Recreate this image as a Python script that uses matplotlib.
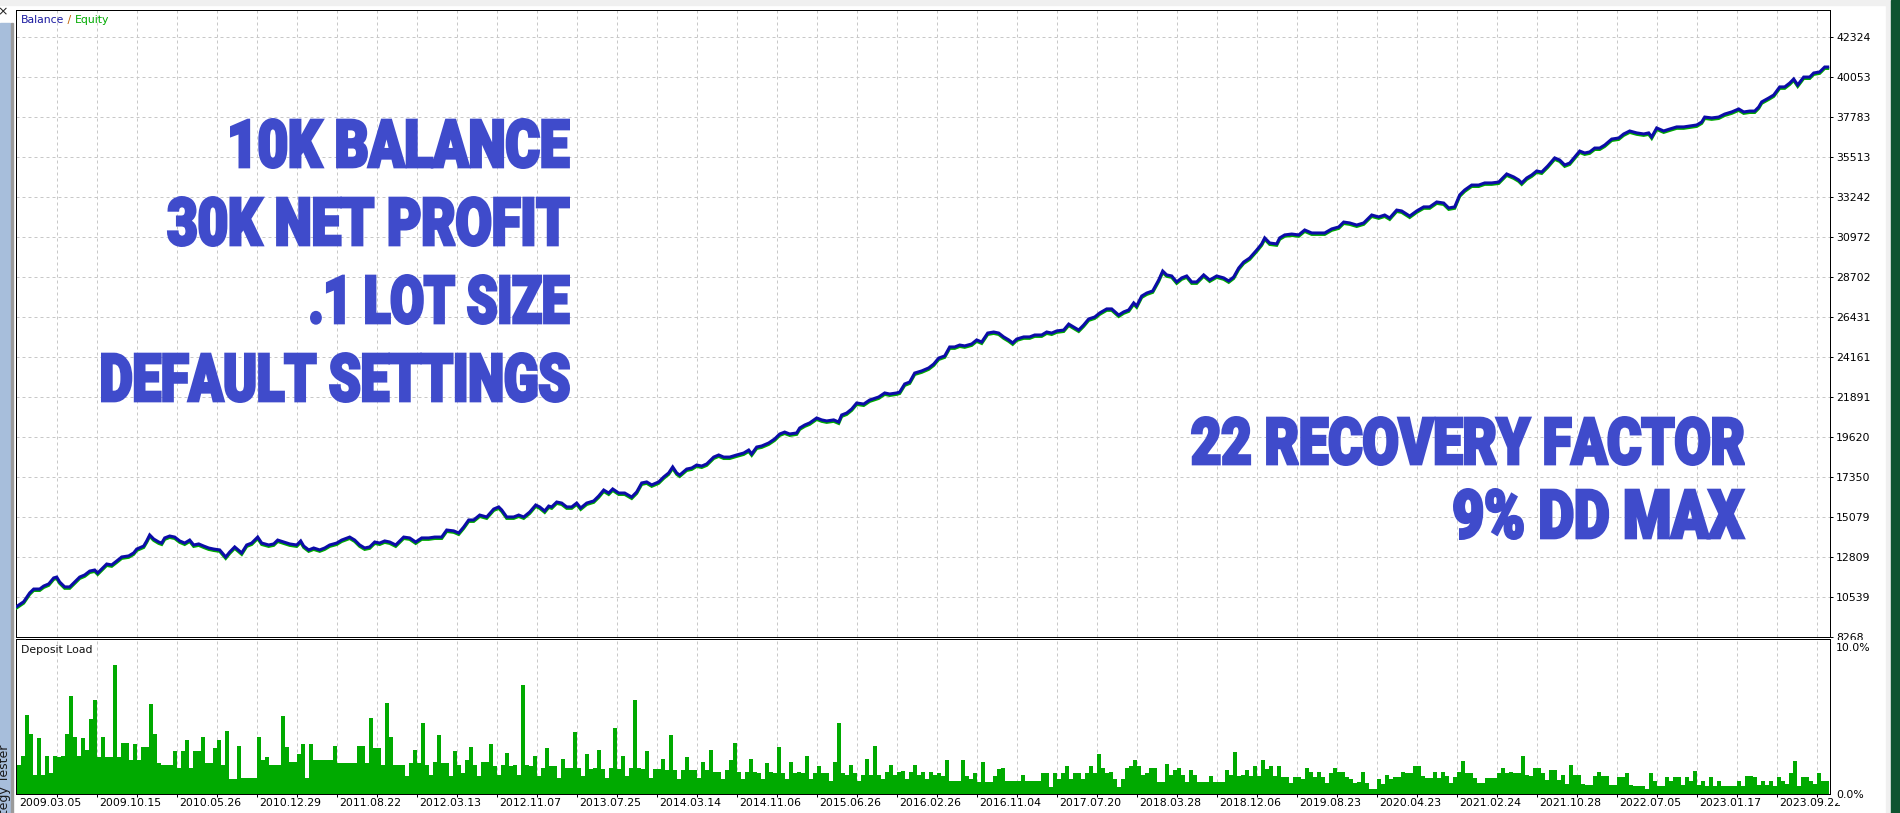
import numpy as np
import matplotlib
matplotlib.use("Agg")
import matplotlib.pyplot as plt
from matplotlib.patches import Rectangle
from matplotlib.patheffects import AbstractPathEffect
from matplotlib.transforms import Affine2D
from matplotlib.ticker import FixedLocator

W, H = 1900, 813

# ---- data ----
deals = [
    0, 7, 13, 17, 23, 27, 32, 37, 40, 43, 48, 53, 58, 63, 68, 73, 78, 81, 85, 90,
    95, 100, 105, 112, 117, 120, 127, 130, 133, 137, 142, 145, 148, 153, 158, 163, 168, 173, 177, 182,
    187, 192, 197, 203, 209, 213, 218, 225, 230, 235, 241, 245, 252, 257, 261, 267, 273, 280, 284, 287,
    292, 297, 303, 308, 313, 320, 325, 333, 338, 343, 348, 353, 358, 363, 368, 373, 379, 387, 393, 399,
    405, 412, 418, 425, 430, 437, 442, 447, 452, 457, 463,
    470, 477, 482, 485, 490, 497, 502, 507, 513, 519, 523, 528, 532, 535, 540, 545, 550, 555, 560, 564,
    570, 577, 582, 587, 592, 596, 602, 608, 615, 620, 625, 630, 635, 642, 647, 652, 656, 660, 663, 670,
    675, 680, 685, 690, 697, 702, 707, 713, 720, 727, 732, 735, 740, 745, 752, 758, 763, 768, 773, 780,
    783, 788, 793, 800, 805, 810, 817, 822, 825, 830, 835, 840, 847, 853, 862, 868, 873, 880, 883, 888,
    893, 898, 905, 912,
    917, 922, 928, 933, 938, 943, 948, 955, 960, 965, 971, 977, 982, 987, 992, 996, 1000, 1007, 1013, 1018,
    1025, 1030, 1035, 1040, 1047, 1052, 1057, 1062, 1067, 1072, 1078, 1083, 1090, 1095, 1102, 1107, 1112, 1117, 1120, 1125,
    1130, 1136, 1142, 1146, 1150, 1155, 1160, 1165, 1170, 1175, 1180, 1187, 1193, 1200, 1207, 1212, 1217, 1222, 1227, 1233,
    1240, 1245, 1248, 1253, 1260, 1263, 1268, 1275, 1282, 1288, 1295, 1302, 1308, 1315, 1322, 1327, 1333, 1340, 1347,
    1355, 1362, 1368, 1373, 1380, 1385, 1393, 1400, 1407, 1413, 1420, 1427, 1432, 1438, 1443, 1448, 1455, 1462, 1468, 1475,
    1482, 1485, 1490, 1497, 1502, 1505, 1510, 1515, 1520, 1525, 1531, 1538, 1543, 1548, 1553, 1558, 1563, 1568, 1573, 1578,
    1583, 1588, 1595, 1602, 1607, 1613, 1620, 1627, 1632, 1635, 1640, 1647, 1653, 1660, 1667, 1673, 1680, 1685, 1688, 1695,
    1702, 1708, 1715, 1722, 1727, 1733, 1738, 1742, 1745, 1752, 1757, 1763, 1768, 1773, 1777, 1781, 1787, 1793, 1797, 1803,
    1808, 1811,
]

balance = [
    10000, 10270, 10770, 10990, 10990, 11160, 11280, 11620, 11670, 11390, 11110, 11110, 11390, 11670, 11790, 12010, 12070, 11900, 12130, 12410,
    12360, 12580, 12810, 12870, 13040, 13260, 13430, 13720, 14060, 13830, 13660, 13600, 13890, 14000, 13940, 13720, 13600, 13770, 13490, 13550,
    13430, 13320, 13260, 13210, 12810, 13090, 13380, 13040, 13490, 13600, 13940, 13600, 13490, 13550, 13770, 13660, 13550, 13490, 13720, 13430,
    13210, 13320, 13210, 13320, 13490, 13600, 13770, 13940, 13770, 13490, 13320, 13380, 13660, 13600, 13720, 13660, 13490, 13940, 13890, 13660,
    13890, 13890, 13940, 13940, 14340, 14290, 14170, 14510, 14910, 14910, 15190,
    15080, 15530, 15650, 15480, 15080, 15080, 15190, 15080, 15360, 15760, 15650, 15420, 15700, 15650, 15930, 15870, 15650, 15650, 15870, 15590,
    15870, 15990, 16270, 16610, 16440, 16670, 16440, 16440, 16210, 16500, 17010, 17070, 16900, 17070, 17350, 17580, 17920, 17580, 17460, 17800,
    17860, 18030, 17970, 18090, 18480, 18600, 18480, 18480, 18600, 18710, 18880, 18660, 19050, 19110, 19280, 19510, 19790, 19900, 19790, 19850,
    20130, 20300, 20420, 20700, 20590, 20530, 20590, 20470, 20870, 20980, 21210, 21550, 21490, 21720, 21890, 22120, 22060, 22120, 22170, 22630,
    22740, 23250, 23370, 23540,
    23760, 24100, 24220, 24730, 24730, 24840, 24790, 24900, 25130, 25010, 25520, 25580, 25520, 25300, 25130, 24960, 25180, 25300, 25300, 25410,
    25410, 25580, 25520, 25640, 25690, 26030, 25860, 25690, 25980, 26320, 26430, 26660, 26890, 26890, 26540, 26720, 26830, 27230, 27060, 27620,
    27790, 27910, 28530, 29040, 28820, 28760, 28420, 28650, 28760, 28420, 28420, 28820, 28530, 28760, 28650, 28480, 28700, 29210, 29550, 29780,
    30230, 30580, 30920, 30630, 30580, 30920, 31090, 31140, 31090, 31370, 31200, 31200, 31200, 31430, 31540, 31820, 31770, 31650, 31770,
    32220, 32110, 32220, 32050, 32500, 32450, 32160, 32450, 32680, 32680, 32960, 32900, 32620, 32680, 33360, 33640, 33920, 33920, 34040, 34040,
    34090, 34260, 34550, 34380, 34210, 34040, 34320, 34490, 34720, 34660, 35000, 35460, 35340, 35060, 35170, 35510, 35850, 35740, 35800, 36020,
    36020, 36190, 36530, 36590, 36820, 36990, 36880, 36820, 36880, 36650, 37160, 36990, 37100, 37220, 37220, 37270, 37330, 37500, 37780, 37730,
    37780, 37950, 38070, 38240, 38070, 38120, 38120, 38350, 38640, 38860, 39030, 39490, 39490, 39710, 39940, 39600, 40050, 40050, 40280, 40340,
    40620, 40620,
]

equity = [
    9920, 10190, 10690, 10910, 10910, 11080, 11200, 11540, 11590, 11310, 11030, 11030, 11310, 11590, 11710, 11930, 11990, 11820, 12050, 12330,
    12280, 12500, 12730, 12790, 12960, 13180, 13350, 13640, 13980, 13750, 13580, 13520, 13810, 13920, 13860, 13640, 13520, 13690, 13410, 13470,
    13350, 13240, 13180, 13130, 12730, 13010, 13300, 12960, 13410, 13520, 13860, 13520, 13410, 13470, 13690, 13580, 13470, 13410, 13640, 13350,
    13130, 13240, 13130, 13240, 13410, 13520, 13690, 13860, 13690, 13410, 13240, 13300, 13580, 13520, 13640, 13580, 13410, 13860, 13810, 13580,
    13810, 13810, 13860, 13860, 14260, 14210, 14090, 14430, 14830, 14830, 15110,
    15000, 15450, 15570, 15400, 15000, 15000, 15110, 15000, 15280, 15680, 15570, 15340, 15620, 15570, 15850, 15790, 15570, 15570, 15790, 15510,
    15790, 15910, 16190, 16530, 16360, 16590, 16360, 16360, 16130, 16420, 16930, 16990, 16820, 16990, 17270, 17500, 17840, 17500, 17380, 17720,
    17780, 17950, 17890, 18010, 18400, 18520, 18400, 18400, 18520, 18630, 18800, 18580, 18970, 19030, 19200, 19430, 19710, 19820, 19710, 19770,
    20050, 20220, 20340, 20620, 20510, 20450, 20510, 20390, 20790, 20900, 21130, 21470, 21410, 21640, 21810, 22040, 21980, 22040, 22090, 22550,
    22660, 23170, 23290, 23460,
    23680, 24020, 24140, 24650, 24650, 24760, 24710, 24820, 25050, 24930, 25440, 25500, 25440, 25220, 25050, 24880, 25100, 25220, 25220, 25330,
    25330, 25500, 25440, 25560, 25610, 25950, 25780, 25610, 25900, 26240, 26350, 26580, 26810, 26810, 26460, 26640, 26750, 27150, 26980, 27540,
    27710, 27830, 28450, 28960, 28740, 28680, 28340, 28570, 28680, 28340, 28340, 28740, 28450, 28680, 28570, 28400, 28620, 29130, 29470, 29700,
    30150, 30500, 30840, 30550, 30500, 30840, 31010, 31060, 31010, 31290, 31120, 31120, 31120, 31350, 31460, 31740, 31690, 31570, 31690,
    32140, 32030, 32140, 31970, 32420, 32370, 32080, 32370, 32600, 32600, 32880, 32820, 32540, 32600, 33280, 33560, 33840, 33840, 33960, 33960,
    34010, 34180, 34470, 34300, 34130, 33960, 34240, 34410, 34640, 34580, 34920, 35380, 35260, 34980, 35090, 35430, 35770, 35660, 35720, 35940,
    35940, 36110, 36450, 36510, 36740, 36910, 36800, 36740, 36800, 36570, 37080, 36910, 37020, 37140, 37140, 37190, 37250, 37420, 37700, 37650,
    37700, 37870, 37990, 38160, 37990, 38040, 38040, 38270, 38560, 38780, 38950, 39410, 39410, 39630, 39860, 39520, 39970, 39970, 40200, 40260,
    40540, 40540,
]

# deposit load in %, one value per bucket of deals
deposit_load = [
    2.0, 2.6, 5.4, 4.1, 1.3, 3.8, 1.3, 2.6, 1.4, 2.6, 2.5, 2.6, 4.1, 6.7, 3.9, 2.6, 3.8, 3.0, 5.1, 6.4,
    2.5, 3.9, 2.5, 2.5, 8.8, 2.5, 3.5, 3.5, 2.3, 3.4, 2.3, 3.2, 3.2, 6.1, 4.1, 2.1, 2.0, 2.0, 2.0, 2.9,
    1.8, 2.9, 3.7, 1.8, 2.9, 2.9, 3.9, 2.1, 2.1, 3.1, 3.7, 2.0, 4.3, 1.0, 1.0, 3.3, 1.1, 1.1, 1.1, 1.1,
    3.9, 2.3, 2.5, 2.0, 2.0, 2.0, 5.3, 3.2, 2.2, 2.2, 2.7, 3.4, 1.1, 3.4, 2.3, 2.3, 2.3, 2.3, 2.3, 3.3,
    2.1, 2.1, 2.1, 2.1, 2.1, 3.3, 3.3, 2.1, 5.2, 3.1, 3.1, 2.0, 6.2, 3.9, 2.0, 2.0,
    2.0, 1.2, 2.1, 3.0, 2.1, 4.8, 2.0, 1.3, 2.2, 4.0, 2.1, 2.1, 1.2, 2.9, 2.0, 1.4, 2.3, 3.2, 2.0, 1.2,
    2.2, 2.2, 3.4, 1.9, 1.3, 2.0, 2.8, 1.9, 2.0, 1.3, 7.4, 2.0, 1.9, 2.6, 1.2, 1.8, 3.1, 1.9, 1.9, 1.1,
    2.4, 1.8, 1.8, 4.2, 1.8, 1.2, 2.7, 1.7, 1.8, 3.0, 1.7, 1.1, 1.8, 4.5, 1.7, 2.6, 1.2, 1.8, 6.4, 1.8,
    1.7, 2.9, 1.1, 1.7, 1.7, 2.4, 1.6, 4.0, 1.6, 1.0, 1.6, 2.5, 1.6, 1.6, 1.1, 2.2, 1.6, 3.0, 1.5, 1.5,
    1.0, 1.6, 2.3, 3.5, 1.5, 1.0, 1.5, 2.4, 1.5, 1.4, 1.0, 2.1, 1.5, 1.4, 3.2, 1.4, 1.0, 2.2, 1.4, 1.5,
    1.4, 2.6, 1.0, 1.4, 1.9, 1.4, 1.4, 0.9, 2.2, 4.8, 1.4, 1.3, 2.0, 1.4, 0.9, 1.3, 2.4, 1.3, 3.3, 1.3,
    1.0, 1.5, 2.0, 1.3, 1.5,
    1.55, 1.0, 1.5, 2.0, 1.3, 1.5, 1.0, 1.5, 1.3, 1.4, 1.2, 2.3, 0.9, 0.9, 0.9, 2.3, 1.2, 1.0, 1.4, 0.85,
    2.2, 0.85, 0.85, 1.25, 1.7, 1.8, 0.9, 0.87, 0.9, 0.87, 1.3, 0.87, 0.9, 0.9, 0.9, 1.4, 1.4, 0.45, 1.4, 1.0,
    1.4, 1.9, 1.0, 1.45, 1.4, 1.0, 1.4, 1.9, 1.4, 2.75, 1.8, 1.4, 1.5, 1.0, 0.5, 1.0, 1.8, 1.9, 2.3, 1.9,
    1.3, 1.4, 1.8, 1.8, 0.8, 0.8, 2.05, 1.3, 1.6, 1.8, 1.3, 0.8, 1.6, 1.3, 0.85, 0.85, 0.85, 1.25, 0.85, 0.85,
    0.85, 1.6, 1.3, 2.85, 1.2, 1.3, 1.6, 1.2, 1.9, 1.2, 2.3, 1.7, 1.9, 1.2, 1.9, 1.15, 1.15, 0.73, 1.15, 1.15,
    1.0, 1.8, 1.5, 1.15, 1.5, 1.15, 0.73, 1.4, 1.8, 1.5, 1.5, 1.15, 1.0, 0.73, 0.8, 1.5, 0.73, 0.35, 0.35, 1.0,
    0.7, 1.3, 1.0, 1.15, 1.15,
    1.5, 1.4, 1.4, 1.9, 1.9, 1.25, 1.1, 1.1, 1.5, 1.1, 1.5, 1.2, 0.73, 1.15, 1.5, 2.24, 1.4, 1.4, 1.1, 0.73,
    0.73, 1.1, 1.1, 1.1, 1.45, 1.8, 1.4, 1.5, 1.4, 1.4, 2.56, 1.3, 1.25, 1.76, 1.76, 1.4, 0.96, 1.6, 1.6, 0.96,
    1.3, 0.7, 2.0, 1.3, 1.3, 0.7, 0.64, 0.64, 1.2, 1.5, 1.25, 1.25, 0.64, 0.64, 1.15, 1.15, 1.4, 0.64, 0.57, 0.57,
    0.57, 0.34, 1.4, 0.9, 0.57, 0.57, 1.15, 0.87, 1.15, 1.15, 0.64, 1.15, 0.87, 1.55, 0.64, 0.87, 0.57, 1.15, 0.57, 0.87,
    0.57, 0.57, 0.57, 0.57, 0.87, 0.57, 1.2, 1.2, 1.15, 0.64, 0.87, 0.64, 0.87, 0.57, 1.15, 0.87, 0.7, 1.4, 2.24, 0.57,
    1.15, 1.15, 0.87, 0.7, 1.4, 0.87, 0.87,
]

y_ticks = [8268, 10539, 12809, 15079, 17350, 19620, 21891, 24161, 26431, 28702,
           30972, 33242, 35513, 37783, 40053, 42324]
load_ticks = [0.0, 10.0]
date_labels = ["2009.03.05", "2009.10.15", "2010.05.26", "2010.12.29", "2011.08.22",
               "2012.03.13", "2012.11.07", "2013.07.25", "2014.03.14", "2014.11.06",
               "2015.06.26", "2016.02.26", "2016.11.04", "2017.07.20", "2018.03.28",
               "2018.12.06", "2019.08.23", "2020.04.23", "2021.02.24", "2021.10.28",
               "2022.07.05", "2023.01.17", "2023.09.22"]

headlines = [
    # text, left, right, top, bottom (pixels of the image)
    ("10K BALANCE", 230, 570, 118, 169),
    ("30K NET PROFIT", 167, 570, 196, 247),
    (".1 LOT SIZE", 310, 570, 274, 325),
    ("DEFAULT SETTINGS", 101, 570, 352, 403),
    ("22 RECOVERY FACTOR", 1191, 1745, 416, 466),
    ("9% DD MAX", 1453, 1745, 488, 540),
]

BLUE = "#0c0ca8"
GREEN = "#00aa00"
GRID = "#c8c8c8"
HEAD = "#3f4bcb"
PX = 0.72  # one pixel in points


def fx(px):
    return px / W


def fy(py):
    return 1 - py / H


class FitBox(AbstractPathEffect):
    """Draw the text glyphs squeezed into a given pixel box (poster lettering)."""

    def __init__(self, box, stroke_px=2.0):
        super().__init__()
        self.box = box
        self.stroke_px = stroke_px

    def draw_path(self, renderer, gc, tpath, affine, rgbFace=None):
        ext = tpath.get_extents(affine)
        left, right, top, bottom = self.box
        pad = self.stroke_px / 2
        x0, x1 = left + pad, right - pad
        y0, y1 = renderer.height - bottom + pad, renderer.height - top - pad
        fit = (Affine2D().translate(-ext.x0, -ext.y0)
               .scale((x1 - x0) / ext.width, (y1 - y0) / ext.height)
               .translate(x0, y0))
        gc0 = renderer.new_gc()
        gc0.copy_properties(gc)
        gc0.set_linewidth(self.stroke_px / renderer.points_to_pixels(1.0))
        gc0.set_foreground(rgbFace, isRGBA=True)
        gc0.set_joinstyle("miter")
        renderer.draw_path(gc0, tpath, affine + fit, rgbFace)
        gc0.restore()


plt.rcParams["font.family"] = ["DejaVu Sans"]

fig = plt.figure(figsize=(W / 100, H / 100), dpi=100, facecolor="white")

# window chrome around the chart
fig.patches.append(Rectangle((0, fy(5)), 1, 5 / H, transform=fig.transFigure,
                             color="#f0f0f0", zorder=0))
fig.patches.append(Rectangle((0, 0), fx(10), fy(23), transform=fig.transFigure,
                             color="#a7bedb", zorder=0))
fig.patches.append(Rectangle((fx(11), 0), fx(1.5), fy(23), transform=fig.transFigure,
                             color="#9a9a9a", zorder=0))
fig.patches.append(Rectangle((fx(1886), 0), fx(5), 1, transform=fig.transFigure,
                             color="#f0f0f0", zorder=0))
fig.patches.append(Rectangle((fx(1891), 0), fx(9), 1, transform=fig.transFigure,
                             color="#0e5430", zorder=0))
fig.text(fx(3), fy(12), "×", fontsize=9, ha="center", va="center", color="#202020")
fig.text(fx(5), fy(745), "Strategy Tester", rotation=90, ha="center", va="top",
         fontsize=9, color="#1a1a1a")

# ---- balance / equity panel ----
ax = fig.add_axes([fx(16), fy(637), (1830 - 16) / W, (637 - 10) / H])
ax.set_axisbelow(True)
ax.plot(deals, equity, color=GREEN, lw=2.2, solid_joinstyle="miter", zorder=4)
ax.plot(deals, balance, color=BLUE, lw=2.2, solid_joinstyle="miter", zorder=5)
ax.set_xlim(-0.7, 1813.3)
ax.set_ylim(y_ticks[0], y_ticks[0] + (y_ticks[-1] - y_ticks[0]) / 15 * 627 / 40)
ax.set_xticks(40.3 + 40 * np.arange(45))
ax.set_yticks(y_ticks)
ax.set_yticklabels([str(v) for v in y_ticks])
ax.yaxis.tick_right()
ax.tick_params(axis="x", length=0, labelbottom=False)
ax.tick_params(axis="y", length=2.2, width=PX, pad=2.2, labelsize=7.8, direction="out")
ax.grid(True, color=GRID, linestyle=(0, (3, 3)), linewidth=PX)
for s in ax.spines.values():
    s.set_linewidth(PX)
    s.set_color("black")

t1 = ax.text(fx(21), fy(20), "Balance", transform=fig.transFigure, color="#1a1aa0",
             fontsize=7.8, va="center", ha="left")
t2 = ax.annotate(" / ", xy=(1, 0.5), xycoords=t1, va="center", ha="left",
                 color="#c06000", fontsize=7.8)
ax.annotate("Equity", xy=(1, 0.5), xycoords=t2, va="center", ha="left",
            color=GREEN, fontsize=7.8)

for text, left, right, top, bottom in headlines:
    fig.text(fx(right), fy(bottom), text, ha="right", va="baseline",
             fontsize=(right - left) / len(text), fontweight="black", color=HEAD,
             family=["Roboto", "DejaVu Sans"],
             path_effects=[FitBox((left, right, top, bottom), stroke_px=3.0)], zorder=3)

# ---- deposit load panel ----
ax2 = fig.add_axes([fx(16), fy(794), (1830 - 16) / W, (794 - 639) / H])
ax2.set_axisbelow(True)
ax2.bar(np.arange(len(deposit_load)), deposit_load, width=1.0, align="edge",
        color=GREEN, linewidth=0, antialiased=False, zorder=3)
ax2.set_xlim(-0.25, 453.25)
ax2.set_ylim(0, 10 * 154 / 146)
grid_pos = np.arange(10, 451, 10)
ax2.xaxis.set_minor_locator(FixedLocator(grid_pos))
ax2.set_xticks(grid_pos[::2] - 1.75)
ax2.set_xticklabels(date_labels)
ax2.tick_params(axis="x", which="major", length=0, pad=3.0, labelsize=7.8)
ax2.tick_params(axis="x", which="minor", length=2.2, width=PX, direction="out")
ax2.xaxis.grid(True, which="minor", color=GRID, linestyle=(0, (3, 3)), linewidth=PX)
ax2.xaxis.grid(False, which="major")
ax2.yaxis.tick_right()
ax2.set_yticks(load_ticks)
ax2.set_yticklabels([f"{v:.1f}%" for v in load_ticks])
ax2.tick_params(axis="y", length=0, pad=4.4, labelsize=7.8)
for tick in ax2.yaxis.get_major_ticks():
    tick.label2.set_bbox(dict(facecolor="white", edgecolor="none", pad=2.5))
for s in ax2.spines.values():
    s.set_linewidth(PX)
    s.set_color("black")
ax2.text(fx(21), fy(650), "Deposit Load", transform=fig.transFigure, fontsize=7.8,
         va="center", ha="left", color="#101010")

fig.savefig("out.png", dpi=100, facecolor="white")
